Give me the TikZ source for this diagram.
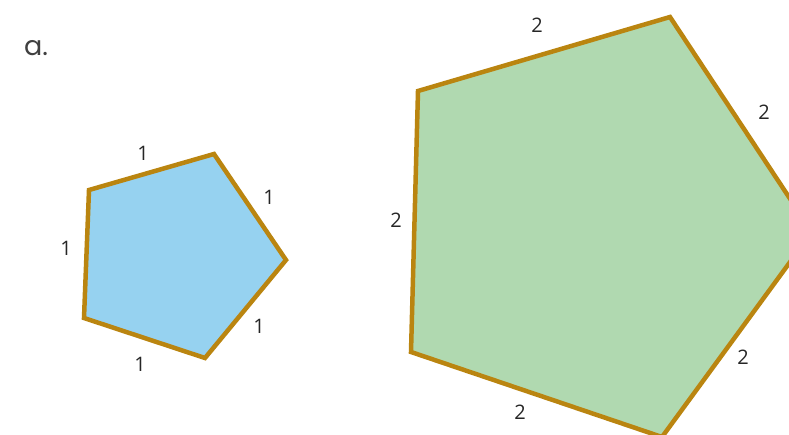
\documentclass[tikz,border=0pt]{standalone}
\usepackage{fontspec}
\setmainfont{Open Sans}
\newfontfamily\labelfont{Poppins}
\definecolor{edgegold}{HTML}{BA8510}
\definecolor{smallfill}{HTML}{96D2F0}
\definecolor{bigfill}{HTML}{B0D9B0}
\begin{document}
\begin{tikzpicture}[x=1pt,y=-1pt,
  pent/.style={draw=edgegold,line width=4.5pt,line join=miter},
  num/.style={font=\fontsize{20}{20}\selectfont,text=black!85,inner sep=0pt}]
\useasboundingbox (0,0) rectangle (789,434);
\clip (0,0) rectangle (789,434);
% small pentagon
\coordinate (s1) at (89,190);
\coordinate (s2) at (214,154);
\coordinate (s3) at (286,260);
\coordinate (s4) at (205,358);
\coordinate (s5) at (84,318);
\filldraw[pent,fill=smallfill] (s1) -- (s2) -- (s3) -- (s4) -- (s5) -- cycle;
% large pentagon
\coordinate (b1) at (418,91);
\coordinate (b2) at (670,17);
\coordinate (b3) at (812,232);
\coordinate (b4) at (662,437);
\coordinate (b5) at (411,352);
\filldraw[pent,fill=bigfill] (b1) -- (b2) -- (b3) -- (b4) -- (b5) -- cycle;
% labels
\node[font=\labelfont\fontsize{27}{27}\selectfont,text=black!75,inner sep=0pt] (lbl) at (36,48) {a.};
\node[num] (n1) at (143,153) {1};
\node[num] (n2) at (269,197) {1};
\node[num] (n3) at (66,248) {1};
\node[num] (n4) at (259,326) {1};
\node[num] (n5) at (140,364) {1};
\node[num] (m1) at (537,25) {2};
\node[num] (m2) at (764,112) {2};
\node[num] (m3) at (396,220) {2};
\node[num] (m4) at (743,357) {2};
\node[num] (m5) at (520,412) {2};
\end{tikzpicture}
\end{document}
